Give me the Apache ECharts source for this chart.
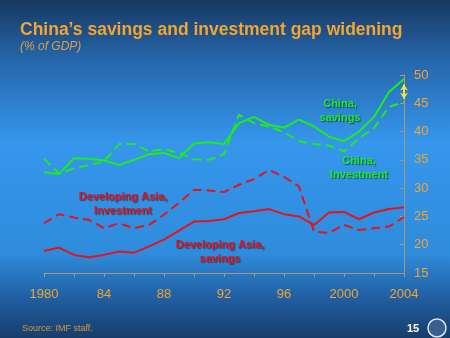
<!DOCTYPE html>
<html><head><meta charset="utf-8">
<script src="https://cdn.jsdelivr.net/npm/echarts@6/dist/echarts.min.js"></script>
<style>html,body{margin:0;padding:0;}#c{width:450px;height:338px;}</style>
</head><body><div id="c"></div>
<script>
var years = ['1980','1981','1982','1983','1984','1985','1986','1987','1988','1989','1990','1991','1992','1993','1994','1995','1996','1997','1998','1999','2000','2001','2002','2003','2004'];
var tickLabels = {'1980':'1980','1984':'84','1988':'88','1992':'92','1996':'96','2000':'2000','2004':'2004'};
var chinaSavings =    [32.8,32.5,35.3,35.2,34.9,34.1,35.0,36.0,36.2,35.3,37.9,38.1,37.8,41.5,42.6,41.2,40.7,42.1,40.9,39.1,38.3,40.0,42.6,47.0,49.3];
var chinaInvestment = [35.2,32.6,33.5,34.1,34.7,37.8,37.8,36.5,36.9,36.2,35.1,35.0,36.0,43.0,41.5,40.9,39.9,38.3,37.8,37.5,36.5,38.8,40.6,44.4,45.2];
var asiaInvestment =  [23.8,25.4,24.8,24.4,22.9,23.8,22.9,23.5,25.3,27.4,29.7,29.6,29.3,30.6,31.6,33.2,32.0,30.3,22.3,22.1,23.5,22.6,22.9,23.2,24.9];
var asiaSavings =     [18.9,19.5,18.2,17.8,18.2,18.8,18.6,19.7,20.9,22.5,24.1,24.2,24.5,25.6,25.9,26.3,25.4,25.0,23.5,25.7,25.8,24.5,25.7,26.3,26.6];
var gapArrow = [48.3, 45.8];

var orange = '#f3a530';
var green = '#1fec1f';
var red = '#e3141e';
var FF = '"Liberation Sans", Arial, sans-serif';
var chart = echarts.init(document.getElementById('c'), null, {renderer:'canvas'});
function lbl(txt, x, y, color){
  return {type:'text', x:x, y:y, style:{text:txt, fill:color, font:'bold 11px '+FF, textAlign:'center', textVerticalAlign:'top', lineHeight:14, textShadowColor:'rgba(0,0,0,0.5)', textShadowOffsetX:1, textShadowOffsetY:1, textShadowBlur:1}};
}
chart.setOption({
  animation:false,
  backgroundColor:{type:'linear',x:0,y:0,x2:0,y2:1,colorStops:[
    {offset:0,color:'#173860'},{offset:0.18,color:'#2667ad'},{offset:0.42,color:'#3596ec'},
    {offset:0.75,color:'#2f8cdc'},{offset:0.88,color:'#215fa2'},{offset:1,color:'#173d6b'}]},
  title:[
    {text:'China\u2019s savings and investment gap widening', left:20, top:21, padding:0,
     textStyle:{color:orange,fontSize:17.5,fontWeight:'bold',fontFamily:FF}},
    {text:'(% of GDP)', left:20, top:41, padding:0,
     textStyle:{color:'#d8a14a',fontSize:12,fontStyle:'italic',fontWeight:'normal',fontFamily:FF}},
    {text:'Source: IMF staff.', left:22, top:324, padding:0,
     textStyle:{color:'#d89a30',fontSize:9,fontWeight:'normal',fontFamily:FF}}
  ],
  grid:{left:44, right:46, top:75, bottom:65},
  xAxis:{type:'category', data:years, boundaryGap:false,
    axisLine:{lineStyle:{color:'#a89878',width:1}},
    axisTick:{show:true, interval:function(i){return i%2===0;}, length:4, lineStyle:{color:'#a89878'}},
    axisLabel:{interval:0, color:orange, fontSize:13, fontFamily:FF, margin:15,
      formatter:function(v){return tickLabels[v]||'';}},
    splitLine:{show:false}},
  yAxis:{type:'value', position:'right', min:15, max:50, interval:5,
    axisLine:{show:true, lineStyle:{color:'#a89878'}},
    axisTick:{show:true, inside:true, length:4, lineStyle:{color:'#a89878'}},
    axisLabel:{color:orange, fontSize:13, fontFamily:FF, margin:10},
    splitLine:{show:false}},
  series:[
    {type:'line', data:chinaSavings, symbol:'none', lineStyle:{color:green,width:2}},
    {type:'line', data:chinaInvestment, symbol:'none', lineStyle:{color:green,width:2,type:[9,5]}},
    {type:'line', data:asiaInvestment, symbol:'none', lineStyle:{color:red,width:2,type:[9,5]}},
    {type:'line', data:asiaSavings, symbol:'none', lineStyle:{color:red,width:2},
     markLine:{silent:true, symbol:['arrow','arrow'], symbolSize:[6,6], label:{show:false},
       lineStyle:{color:'#f2e63a',width:2,type:'solid'},
       data:[[{coord:['2004',gapArrow[0]]},{coord:['2004',gapArrow[1]]}]]}}
  ],
  graphic:[
    lbl('China,\nsavings', 340, 97, green),
    lbl('China,\nInvestment', 359, 154, green),
    lbl('Developing Asia,\nInvestment', 123, 190, red),
    lbl('Developing Asia,\nsavings', 220, 238, red),
    {type:'text', x:407, y:323, style:{text:'15', fill:'#ffffff', font:'bold 11px '+FF}},
    {type:'circle', shape:{cx:437, cy:328, r:9}, style:{fill:'#3a5f8f', stroke:'#dde6f0', lineWidth:1.5}}
  ]
});
</script></body></html>
